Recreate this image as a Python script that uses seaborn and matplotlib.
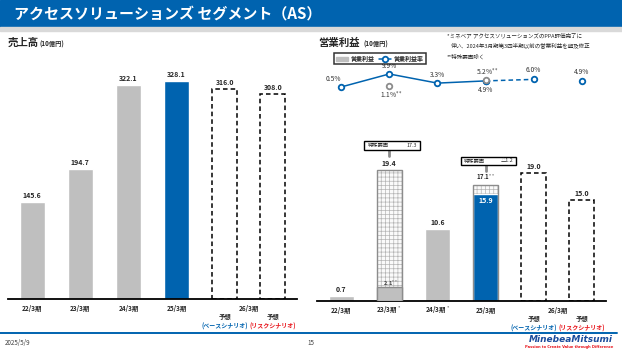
import matplotlib
matplotlib.use("Agg")
import matplotlib.pyplot as plt
import seaborn as sns
import pandas as pd
import numpy as np
from matplotlib.patches import Rectangle, Patch
from matplotlib.lines import Line2D

sns.set_style("white")
plt.rcParams["font.family"] = ["Noto Sans CJK JP", "DejaVu Sans"]
plt.rcParams["hatch.linewidth"] = 0.5

BLUE = "#0063AF"
GREY = "#BFBFBF"

# data
keys = ["22/3", "23/3", "24/3", "25/3", "26/3B", "26/3R"]
sales_labels = ["22/3期", "23/3期", "24/3期", "25/3期"]
op_labels = ["22/3期", "23/3期 $^{*}$", "24/3期 $^{*}$", "25/3期"]
forecast_label = "26/3期"
scenarios = ["(ベースシナリオ)", "(リスクシナリオ)"]
scenario_colors = [BLUE, "#E8141B"]
sales = [145.6, 194.7, 322.1, 328.1, 316.0, 308.0]
op_reported = [0.7, 19.4, 10.6, 15.9, 19.0, 15.0]
op_excl = [np.nan, 2.1, np.nan, 17.1, np.nan, np.nan]
special_items = {1: "17.3", 3: "△1.2"}
margin = [0.5, 9.9, 3.3, 4.9, 6.0, 4.9]
margin_excl = [np.nan, 1.1, np.nan, 5.2, np.nan, np.nan]
bar_colors = [GREY, GREY, GREY, BLUE, "white", "white"]

W, H = 622, 350
fig = plt.figure(figsize=(W / 100, H / 100), dpi=100)


def fx(px):
    return px / W


def fy(py):
    return 1 - py / H


# header / footer
fig.patches.append(Rectangle((0, fy(27)), 1, 27 / H, transform=fig.transFigure, color=BLUE, zorder=0))
fig.patches.append(Rectangle((0, fy(31)), 1, 4 / H, transform=fig.transFigure, color="#D9D9D9", zorder=0))
fig.text(fx(14), fy(14), "アクセスソリューションズ セグメント（AS）", color="white",
         fontsize=10.8, fontweight="bold", va="center")
fig.lines.append(Line2D([0, fx(617)], [fy(333), fy(333)], transform=fig.transFigure, color=BLUE, lw=1.4))
fig.text(fx(5), fy(343), "2025/5/9", fontsize=4.5, color="#404040", va="center")
fig.text(fx(311), fy(343), "15", fontsize=4.5, color="#404040", va="center", ha="center")
fig.text(fx(613), fy(340), "MinebeaMitsumi", fontsize=6.5, color="#1A4C9C", fontweight="bold",
         style="italic", family="DejaVu Sans", ha="right", va="center")
fig.text(fx(613), fy(347), "Passion to Create Value through Difference", fontsize=2.6, color="#E8141B",
         fontweight="bold", family="DejaVu Sans", ha="right", va="center")

fig.text(fx(8), fy(43), "売上高", fontsize=7.5, fontweight="bold", va="center")
fig.text(fx(40), fy(44), "(10億円)", fontsize=4.5, fontweight="bold", va="center")
fig.text(fx(318), fy(43), "営業利益", fontsize=7.5, fontweight="bold", va="center")
fig.text(fx(364), fy(44), "(10億円)", fontsize=4.5, fontweight="bold", va="center")
fig.text(fx(447), fy(36), "*ミネベア アクセスソリューションズのPPA評価完了に", fontsize=4.0, va="center")
fig.text(fx(451), fy(45), "伴い、2024年3月期第3四半期以前の営業利益を遡及修正", fontsize=4.0, va="center")
fig.text(fx(447), fy(57), "**特殊要因除く", fontsize=4.0, va="center")


def setup_axis(ax, labels):
    ax.set_xlim(-0.5, len(keys) - 0.5)
    for s in ["top", "left", "right"]:
        ax.spines[s].set_visible(False)
    ax.spines["bottom"].set_linewidth(1.3)
    ax.spines["bottom"].set_color("black")
    ax.set_xticks(np.arange(-0.5, len(keys)))
    ax.set_xticklabels([])
    ax.tick_params(axis="x", direction="inout", length=7, width=1.1, color="black")
    ax.set_yticks([])
    ax.set_xlabel("")
    ax.set_ylabel("")
    for i, lab in enumerate(labels):
        ax.annotate(lab, xy=(i, 0), xycoords=("data", "axes fraction"), xytext=(0, -9),
                    textcoords="offset pixels", ha="center", va="center", fontsize=4.6, fontweight="bold")
    ax.annotate(forecast_label, xy=(4.5, 0), xycoords=("data", "axes fraction"), xytext=(0, -9),
                textcoords="offset pixels", ha="center", va="center", fontsize=4.6, fontweight="bold")
    for j, (sc, c) in enumerate(zip(scenarios, scenario_colors)):
        ax.annotate("予想", xy=(4 + j, 0), xycoords=("data", "axes fraction"), xytext=(0, -18),
                    textcoords="offset pixels", ha="center", va="center", fontsize=4.6, fontweight="bold")
        ax.annotate(sc, xy=(4 + j, 0), xycoords=("data", "axes fraction"), xytext=(0, -27),
                    textcoords="offset pixels", ha="center", va="center", fontsize=4.3,
                    fontweight="bold", color=c)


def style_forecasts(patches):
    for p in patches:
        idx = int(round(p.get_x() + p.get_width() / 2))
        if idx >= 4:
            p.set_facecolor("white")
            p.set_edgecolor("black")
            p.set_linestyle((0, (3, 2)))
            p.set_linewidth(1.1)


# ---- left: sales
ax1 = fig.add_axes([fx(8), fy(299), fx(289), 239 / H])
df1 = pd.DataFrame({"key": keys, "sales": sales})
sns.barplot(data=df1, x="key", y="sales", hue="key", order=keys, hue_order=keys,
            palette=dict(zip(keys, bar_colors)), saturation=1, width=0.52, legend=False, ax=ax1)
style_forecasts(ax1.patches)
ax1.set_ylim(0, 359)
setup_axis(ax1, sales_labels)
for i, v in enumerate(sales):
    ax1.annotate(f"{v:.1f}", xy=(i, v), xytext=(0, 3), textcoords="offset pixels",
                 ha="center", va="bottom", fontsize=5, fontweight="bold")

# ---- right: operating income
ax2 = fig.add_axes([fx(317), fy(301), fx(289), 171 / H])
top_hatched = [max(r, e) if not np.isnan(e) else np.nan for r, e in zip(op_reported, op_excl)]
solid = [min(r, e) if not np.isnan(e) else r for r, e in zip(op_reported, op_excl)]
dfh = pd.DataFrame({"key": keys, "v": top_hatched}).dropna()
sns.barplot(data=dfh, x="key", y="v", order=keys, color="#FAFAFA", saturation=1, width=0.52,
            edgecolor="#B5B5B5", linewidth=0.6, hatch="++++", ax=ax2)
n0 = len(ax2.patches)
for p in ax2.patches[:n0]:
    # grey outline drawn over the light hatch
    ax2.add_patch(Rectangle(p.get_xy(), p.get_width(), p.get_height(), fill=False,
                            edgecolor="#8C8C8C", lw=1.0, zorder=p.get_zorder() + 0.1))
n0 = len(ax2.patches)
dfs = pd.DataFrame({"key": keys, "v": solid})
sns.barplot(data=dfs, x="key", y="v", hue="key", order=keys, hue_order=keys,
            palette=dict(zip(keys, bar_colors)), saturation=1, width=0.52, legend=False, ax=ax2)
solid_patches = ax2.patches[n0:]
for p in solid_patches:
    idx = int(round(p.get_x() + p.get_width() / 2))
    if idx == 1:
        p.set_edgecolor("#8C8C8C")
        p.set_linewidth(1.0)
        p.set_zorder(3)
style_forecasts(solid_patches)
ax2.set_ylim(0, 25.3)
setup_axis(ax2, op_labels)

for i, v in enumerate(op_reported):
    if i == 3:
        ax2.annotate(f"{v:.1f}", xy=(i, v), xytext=(0, -3), textcoords="offset pixels",
                     ha="center", va="top", fontsize=5, fontweight="bold", color="white")
    else:
        ax2.annotate(f"{v:.1f}", xy=(i, v), xytext=(0, 3), textcoords="offset pixels",
                     ha="center", va="bottom", fontsize=5, fontweight="bold")
for i, v in enumerate(op_excl):
    if np.isnan(v):
        continue
    if v < op_reported[i]:
        ax2.annotate(f"{v:.1f}" + "$^{**}$", xy=(i, v), xytext=(1, 3), textcoords="offset pixels",
                     ha="center", va="center", fontsize=4, fontweight="bold", color="#404040", zorder=6)
    else:
        ax2.annotate(f"{v:.1f}" + "$^{**}$", xy=(i, v), xytext=(0, 3), textcoords="offset pixels",
                     ha="center", va="bottom", fontsize=4.3, fontweight="bold")

for i, txt in special_items.items():
    top = np.nanmax([op_reported[i], op_excl[i]])
    y0 = top + 3.0
    ax2.add_patch(Rectangle((i - 0.52, y0), 1.16, 1.25, facecolor="white", edgecolor="black",
                            lw=1.0, clip_on=False, zorder=5))
    ax2.text(i - 0.45, y0 + 0.62, "特殊要因", fontsize=3.8, va="center", ha="left", zorder=6)
    ax2.text(i + 0.58, y0 + 0.62, txt, fontsize=3.8, va="center", ha="right", zorder=6)
    ax2.plot([i, i], [y0, y0 - 0.9], color="#8C8C8C", lw=2, clip_on=False)

# ---- margin line
ax3 = fig.add_axes([fx(317), fy(100), fx(289), 40 / H])
ax3.set_xlim(-0.5, len(keys) - 0.5)
ax3.set_ylim(-8.9, 20)
ax3.axis("off")
xs = np.arange(len(keys))
mk = dict(marker="o", markersize=4, markerfacecolor="white", markeredgecolor=BLUE, markeredgewidth=1.3)
sns.lineplot(x=xs[:4], y=margin[:4], color=BLUE, lw=1.1, ax=ax3, **mk)
sns.lineplot(x=xs[3:5], y=margin[3:5], color=BLUE, lw=1.1, linestyle=(0, (3, 2)), ax=ax3, **mk)
ax3.plot(xs[5:], margin[5:], color=BLUE, lw=0, **mk)
ax3.plot(xs, margin_excl, lw=0, marker="o", markersize=4, markerfacecolor="white",
         markeredgecolor="#8C8C8C", markeredgewidth=1.3)
m_off = [(-8, 8), (0, 8), (0, 8), (0, -9), (0, 9), (0, 9)]
for i, v in enumerate(margin):
    ax3.annotate(f"{v:.1f}%", xy=(i, v), xytext=m_off[i], textcoords="offset pixels",
                 ha="center", va="center", fontsize=4.8, color="#333333")
me_off = {1: (2, -9), 3: (2, 8)}
for i, v in enumerate(margin_excl):
    if np.isnan(v):
        continue
    ax3.annotate(f"{v:.1f}%" + "$^{**}$", xy=(i, v), xytext=me_off[i], textcoords="offset pixels",
                 ha="center", va="center", fontsize=4.8, color="#333333")

handles = [Patch(facecolor=GREY, edgecolor=GREY),
           Line2D([0], [0], color=BLUE, lw=1.1, **mk)]
leg = fig.legend(handles, ["営業利益", "営業利益率"], loc="upper left",
                 bbox_to_anchor=(fx(331), fy(50)), ncol=2, frameon=True,
                 fancybox=False, edgecolor="black", handlelength=2.0, handleheight=0.6,
                 columnspacing=0.8, borderpad=0.35, handletextpad=0.4, prop={"weight": "bold", "size": 4.3})
leg.get_frame().set_linewidth(1.1)

fig.savefig("out.png", dpi=100)
